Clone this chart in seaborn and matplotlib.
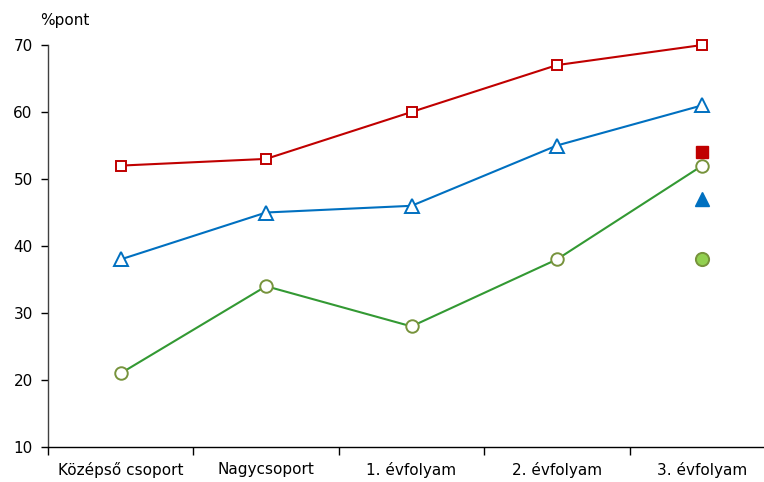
import pandas as pd
import matplotlib.pyplot as plt
import seaborn as sns

# Chart values
categories = ['Középső csoport', 'Nagycsoport', '1. évfolyam', '2. évfolyam', '3. évfolyam']
red_values = [52, 53, 60, 67, 70]
blue_values = [38, 45, 46, 55, 61]
green_values = [21, 34, 28, 38, 52]
# Single filled markers at the last category
filled_values = {'red': 54, 'blue': 47, 'green': 38}

sns.set_style('white')
plt.rcParams['font.family'] = ['DejaVu Sans']

fig = plt.figure(figsize=(7.64, 4.82), dpi=100)
ax = fig.add_axes([48 / 764, 1 - 447 / 482, 727 / 764, 402 / 482])

x = list(range(len(categories)))
df = pd.DataFrame({'x': x, 'red': red_values, 'blue': blue_values, 'green': green_values})

sns.lineplot(data=df, x='x', y='red', ax=ax, color='#C00000', lw=1.5,
             marker='s', markersize=7.5, markerfacecolor='white',
             markeredgecolor='#C00000', markeredgewidth=1.4, clip_on=False)
sns.lineplot(data=df, x='x', y='blue', ax=ax, color='#0070C0', lw=1.5,
             marker='^', markersize=9.5, markerfacecolor='white',
             markeredgecolor='#0070C0', markeredgewidth=1.4, clip_on=False)
sns.lineplot(data=df, x='x', y='green', ax=ax, color='#339933', lw=1.5,
             marker='o', markersize=9, markerfacecolor='white',
             markeredgecolor='#77933C', markeredgewidth=1.4, clip_on=False)

last = x[-1]
ax.plot([last], [filled_values['red']], marker='s', ms=9, color='#C00000', ls='none')
ax.plot([last], [filled_values['blue']], marker='^', ms=10.5, color='#0070C0', ls='none')
ax.plot([last], [filled_values['green']], marker='o', ms=9.5, markerfacecolor='#92D050',
        markeredgecolor='#77933C', markeredgewidth=1.4, ls='none')

ax.set_xlim(-0.5, len(categories) - 0.5)
ax.set_ylim(10, 70)
ax.set_yticks(range(10, 71, 10))

# boundaries as ticks, labels centred between them
ax.set_xticks([i - 0.5 for i in range(len(categories))])
ax.set_xticklabels([])
ax.set_xticks(x, minor=True)
ax.set_xticklabels(categories, minor=True)
ax.tick_params(axis='x', which='major', bottom=True, length=6, width=1,
               color='black', direction='out')
ax.tick_params(axis='x', which='minor', bottom=True, length=0, pad=11,
               labelsize=11, labelcolor='black')
ax.tick_params(axis='y', left=True, length=5, width=1, color='black',
               direction='out', pad=6, labelsize=11, labelcolor='black')

sns.despine(ax=ax, top=True, right=True)
ax.spines['left'].set_color('#404040')
ax.spines['bottom'].set_color('black')
ax.spines['left'].set_linewidth(1)
ax.spines['bottom'].set_linewidth(1)
ax.set_xlabel('')
ax.set_ylabel('')

fig.text(40 / 764, 1 - 20 / 482, '%pont', fontsize=11, va='center', ha='left', color='black')

fig.savefig('out.png', dpi=100)
